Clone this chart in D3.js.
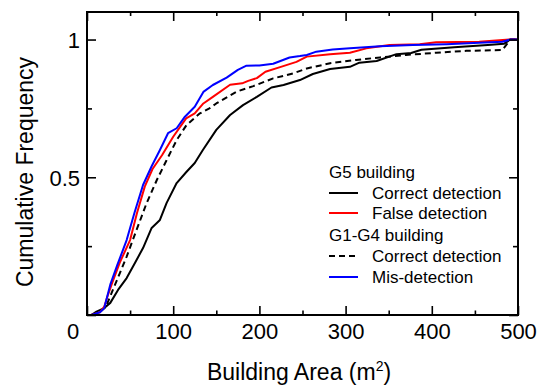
<!DOCTYPE html>
<html>
<head>
<meta charset="utf-8">
<script src="https://cdn.jsdelivr.net/npm/d3@7"></script>
<style>
  body { margin: 0; background: #fff; }
  svg text { font-family: "Liberation Sans", Arial, sans-serif; fill: #000; }
</style>
</head>
<body>
<div id="chart"></div>
<script>
// [building area m2, cumulative frequency]
const g5Correct = [[5,0],[11,0.012],[20,0.025],[27,0.044],[36,0.091],[46,0.134],[55.6,0.189],[65,0.243],[75,0.316],[84.6,0.345],[92.4,0.407],[104,0.479],[115.5,0.52],[125,0.552],[134.4,0.599],[150,0.672],[166,0.726],[181,0.762],[197,0.792],[214,0.826],[228,0.835],[247,0.853],[262,0.875],[282,0.893],[305,0.901],[316,0.916],[336,0.922],[359,0.947],[376,0.951],[388,0.963],[426,0.972],[465,0.98],[484,0.985],[491,1],[500,1]];
const g5False = [[5,0],[15,0.01],[20,0.03],[24,0.07],[29,0.115],[38,0.19],[50,0.272],[58,0.37],[67,0.466],[76,0.53],[87,0.58],[100,0.647],[115,0.714],[125,0.732],[135,0.768],[146,0.792],[166,0.836],[180,0.841],[187,0.85],[197,0.86],[207,0.883],[224,0.9],[243,0.919],[255,0.938],[282,0.947],[305,0.952],[324,0.968],[351,0.98],[386,0.983],[405,0.99],[455,0.992],[490,1],[500,1]];
const g14Correct = [[5,0],[15,0.01],[22,0.03],[30,0.091],[38,0.151],[46,0.212],[57.5,0.309],[69,0.405],[81,0.49],[92,0.56],[104,0.635],[115.5,0.69],[131,0.732],[142,0.75],[150,0.768],[173.5,0.811],[193,0.831],[216,0.859],[239,0.877],[255,0.895],[282,0.914],[312,0.926],[340,0.935],[370,0.944],[405,0.952],[440,0.959],[482,0.962],[491,1],[500,1]];
const g14Mis = [[5,0],[15,0.01],[20,0.025],[27,0.11],[35,0.18],[46,0.272],[55,0.37],[65,0.472],[75,0.54],[84.6,0.599],[94,0.66],[104,0.678],[113.6,0.72],[125,0.756],[135,0.81],[146,0.835],[162,0.862],[175,0.89],[185,0.905],[200,0.906],[216,0.912],[235,0.935],[247,0.94],[255,0.944],[266,0.956],[285,0.964],[305,0.968],[340,0.976],[378,0.98],[417,0.983],[455,0.988],[482,0.992],[491,1],[500,1]];

const xMajor = [0, 100, 200, 300, 400, 500];
const xMinor = [50, 150, 250, 350, 450];
const yMajor = [0, 0.5, 1];
const yMinor = [0.25, 0.75];
const xLabels = [100, 200, 300, 400, 500];
const yLabels = [0.5, 1];

const series = [
  { name: "Correct detection", data: g5Correct, color: "#000", dash: null },
  { name: "False detection", data: g5False, color: "#ff0000", dash: null },
  { name: "Correct detection", data: g14Correct, color: "#000", dash: "6,4" },
  { name: "Mis-detection", data: g14Mis, color: "#0000ff", dash: null }
];

const W = 544, H = 385;
const mLeft = 87, mRight = 518, mTop = 12, mBottom = 315;

const svg = d3.select("#chart").append("svg")
  .attr("width", W).attr("height", H);

const x = d3.scaleLinear().domain([0, 500]).range([mLeft, mRight]);
const y = d3.scaleLinear().domain([0, 1.1]).range([mBottom, mTop]);

// lines
const line = d3.line().x(d => x(d[0])).y(d => y(d[1]));
const lines = svg.append("g");
// draw in reference stacking order
[series[2], series[0], series[1], series[3]].forEach(s => {
  lines.append("path")
    .attr("d", line(s.data))
    .attr("fill", "none")
    .attr("stroke", s.color)
    .attr("stroke-width", 2)
    .attr("stroke-dasharray", s.dash)
    .attr("stroke-linejoin", "round");
});

// ticks pointing inward on all sides
function ticks(axis, vals, size, tr) {
  const g = svg.append("g").attr("transform", tr)
    .call(axis.tickValues(vals).tickSize(size).tickFormat(""));
  g.select(".domain").remove();
  g.selectAll(".tick line").attr("stroke", "#000").attr("stroke-width", 1.6);
}
ticks(d3.axisBottom(x), xMajor, -9, `translate(0,${mBottom})`);
ticks(d3.axisBottom(x), xMinor, -4.5, `translate(0,${mBottom})`);
ticks(d3.axisTop(x), xMajor, -9, `translate(0,${mTop})`);
ticks(d3.axisTop(x), xMinor, -4, `translate(0,${mTop})`);
ticks(d3.axisLeft(y), yMajor, -9, `translate(${mLeft},0)`);
ticks(d3.axisLeft(y), yMinor, -5, `translate(${mLeft},0)`);
ticks(d3.axisRight(y), yMajor, -9, `translate(${mRight},0)`);
ticks(d3.axisRight(y), yMinor, -5, `translate(${mRight},0)`);

// frame
svg.append("rect")
  .attr("x", mLeft).attr("y", mTop)
  .attr("width", mRight - mLeft).attr("height", mBottom - mTop)
  .attr("fill", "none").attr("stroke", "#000").attr("stroke-width", 2);

// tick labels
const xl = svg.append("g").attr("transform", `translate(0,${mBottom})`)
  .call(d3.axisBottom(x).tickValues(xLabels).tickSize(0).tickPadding(8));
xl.select(".domain").remove();
xl.selectAll("text").attr("font-size", 22).attr("font-family", null)
  .attr("y", 24).attr("dy", null);

const yl = svg.append("g").attr("transform", `translate(${mLeft},0)`)
  .call(d3.axisLeft(y).tickValues(yLabels).tickSize(0).tickPadding(7).tickFormat(d3.format("")));
yl.select(".domain").remove();
yl.selectAll("text").attr("font-size", 22).attr("font-family", null)
  .attr("dy", "0.36em");

// shared origin label
svg.append("text").attr("x", 73).attr("y", 339).attr("text-anchor", "middle")
  .attr("font-size", 22).text("0");

// axis titles
const xt = svg.append("text").attr("x", 299).attr("y", 380)
  .attr("text-anchor", "middle").attr("font-size", 23);
xt.append("tspan").text("Building Area (m");
xt.append("tspan").attr("font-size", 14).attr("dy", -9).text("2");
xt.append("tspan").attr("dy", 9).text(")");

svg.append("text")
  .attr("transform", "translate(33,172) rotate(-90)")
  .attr("text-anchor", "middle").attr("font-size", 23)
  .text("Cumulative Frequency");

// legend
const legend = svg.append("g").attr("font-size", 17);
const rows = [
  { head: "G5 building", y: 172 },
  { s: series[0], y: 193 },
  { s: series[1], y: 213 },
  { head: "G1-G4 building", y: 235 },
  { s: series[2], y: 256 },
  { s: series[3], y: 277 }
];
rows.forEach(r => {
  if (r.head) {
    legend.append("text").attr("x", 329).attr("y", r.y).attr("dy", "0.36em").text(r.head);
  } else {
    legend.append("line")
      .attr("x1", 329).attr("x2", 358).attr("y1", r.y).attr("y2", r.y)
      .attr("stroke", r.s.color).attr("stroke-width", 2)
      .attr("stroke-dasharray", r.s.dash);
    legend.append("text").attr("x", 372).attr("y", r.y).attr("dy", "0.36em").text(r.s.name);
  }
});
</script>
</body>
</html>
